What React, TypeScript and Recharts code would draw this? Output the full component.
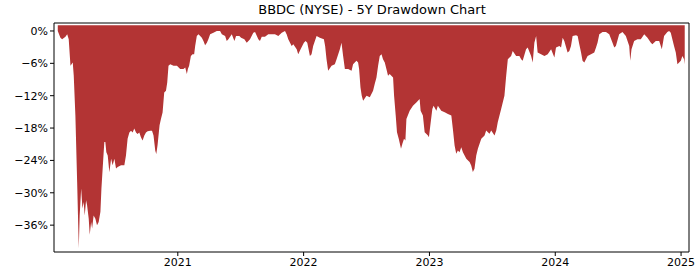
import React from "react";
import { AreaChart, Area, XAxis, YAxis } from "recharts";

const TITLE = "BBDC (NYSE) - 5Y Drawdown Chart";

// time in decimal years
const dates: number[] = [
  2020.046, 2020.067, 2020.081, 2020.107, 2020.121, 2020.133, 2020.147, 2020.165, 2020.173, 2020.186,
  2020.2, 2020.213, 2020.22, 2020.232, 2020.242, 2020.252, 2020.26, 2020.271, 2020.279, 2020.292,
  2020.3, 2020.311, 2020.319, 2020.331, 2020.345, 2020.358, 2020.371, 2020.385, 2020.393, 2020.406,
  2020.416, 2020.424, 2020.432, 2020.443, 2020.456, 2020.47, 2020.482, 2020.496, 2020.509, 2020.522,
  2020.549, 2020.575, 2020.588, 2020.601, 2020.615, 2020.628, 2020.641, 2020.654, 2020.668, 2020.68,
  2020.694, 2020.707, 2020.72, 2020.734, 2020.747, 2020.76, 2020.781, 2020.795, 2020.807, 2020.821,
  2020.829, 2020.839, 2020.855, 2020.866, 2020.879, 2020.892, 2020.906, 2020.916, 2020.926, 2020.94,
  2020.966, 2020.993, 2021.019, 2021.045, 2021.059, 2021.072, 2021.08, 2021.09, 2021.104, 2021.117,
  2021.13, 2021.138, 2021.151, 2021.164, 2021.178, 2021.191, 2021.204, 2021.217, 2021.231, 2021.243,
  2021.257, 2021.283, 2021.31, 2021.336, 2021.35, 2021.376, 2021.389, 2021.402, 2021.429, 2021.45,
  2021.463, 2021.489, 2021.503, 2021.529, 2021.548, 2021.574, 2021.6, 2021.614, 2021.64, 2021.653,
  2021.667, 2021.693, 2021.719, 2021.746, 2021.772, 2021.799, 2021.826, 2021.852, 2021.865, 2021.878,
  2021.905, 2021.918, 2021.945, 2021.957, 2021.976, 2022.002, 2022.016, 2022.029, 2022.05, 2022.063,
  2022.076, 2022.103, 2022.129, 2022.161, 2022.171, 2022.182, 2022.195, 2022.222, 2022.248, 2022.262,
  2022.288, 2022.301, 2022.314, 2022.328, 2022.354, 2022.381, 2022.393, 2022.42, 2022.433, 2022.441,
  2022.452, 2022.462, 2022.473, 2022.5, 2022.526, 2022.539, 2022.552, 2022.565, 2022.579, 2022.592,
  2022.605, 2022.619, 2022.631, 2022.645, 2022.658, 2022.671, 2022.684, 2022.711, 2022.719, 2022.732,
  2022.742, 2022.756, 2022.774, 2022.785, 2022.798, 2022.809, 2022.817, 2022.843, 2022.869, 2022.896,
  2022.922, 2022.93, 2022.948, 2022.962, 2022.988, 2022.996, 2023.007, 2023.023, 2023.033, 2023.055,
  2023.067, 2023.094, 2023.121, 2023.147, 2023.174, 2023.186, 2023.2, 2023.213, 2023.226, 2023.239,
  2023.253, 2023.266, 2023.293, 2023.319, 2023.332, 2023.345, 2023.358, 2023.372, 2023.385, 2023.412,
  2023.438, 2023.451, 2023.477, 2023.491, 2023.517, 2023.531, 2023.543, 2023.57, 2023.596, 2023.61,
  2023.623, 2023.649, 2023.662, 2023.689, 2023.715, 2023.729, 2023.741, 2023.768, 2023.781, 2023.808,
  2023.821, 2023.834, 2023.848, 2023.86, 2023.887, 2023.914, 2023.94, 2023.967, 2023.993, 2024.006,
  2024.033, 2024.046, 2024.059, 2024.072, 2024.098, 2024.112, 2024.125, 2024.138, 2024.165, 2024.178,
  2024.191, 2024.205, 2024.217, 2024.231, 2024.257, 2024.284, 2024.31, 2024.324, 2024.336, 2024.35,
  2024.376, 2024.403, 2024.429, 2024.455, 2024.469, 2024.482, 2024.508, 2024.534, 2024.561, 2024.588,
  2024.596, 2024.606, 2024.627, 2024.653, 2024.68, 2024.707, 2024.733, 2024.76, 2024.772, 2024.799,
  2024.826, 2024.847, 2024.865, 2024.891, 2024.905, 2024.918, 2024.944, 2024.958, 2024.971, 2024.998,
  2025.01, 2025.024, 2025.029,
];

// drawdown in percent
const drawdown: number[] = [
  0, -1.24, -1.53, -1.05, -0.61, -1.53, -6.46, -5.85, -8.31, -15.69,
  -28.0, -40.3, -34.2, -29.2, -32.9, -31.7, -34.2, -31.4, -32.3, -34.8,
  -37.8, -35.4, -36.6, -34.2, -34.8, -36.0, -35.4, -33.5, -29.2, -24.3,
  -20.6, -20.6, -22.5, -23.1, -26.2, -23.7, -24.9, -23.7, -25.5, -25.2,
  -24.9, -24.9, -23.1, -20.0, -18.8, -18.5, -18.8, -18.1, -18.8, -19.1,
  -18.8, -19.7, -20.3, -19.4, -18.8, -18.6, -18.5, -18.5, -19.4, -22.2,
  -22.8, -21.2, -17.5, -16.3, -15.1, -11.4, -11.1, -9.54, -6.46, -6.15,
  -6.46, -6.46, -7.07, -7.07, -6.77, -7.99, -7.07, -6.46, -4.62, -4.3,
  -4.3, -2.77, -0.92, -0.61, -0.92, -1.24, -1.85, -2.64, -2.16, -1.53,
  -0.61, -0.31, 0, 0, -0.61, -0.92, -1.85, -1.53, -0.61, -1.85,
  -0.92, -0.92, -1.24, -1.53, -2.16, -1.53, -0.31, -0.18, -1.53, -1.85,
  -1.05, -1.05, -0.61, -0.61, -0.61, -0.92, -0.31, 0, -0.61, -1.53,
  -2.77, -2.46, -3.38, -4.3, -3.38, -2.16, -1.85, -2.16, -4.62, -4.3,
  -2.77, -0.92, -1.24, -1.53, -2.77, -5.22, -7.38, -6.46, -6.15, -5.22,
  -3.38, -2.16, -4.62, -7.07, -7.07, -7.38, -6.15, -5.54, -5.85, -7.07,
  -10.47, -12.0, -12.92, -12.0, -12.31, -11.69, -11.08, -9.84, -8.62, -6.46,
  -4.62, -4.3, -5.22, -5.85, -7.07, -8.31, -7.99, -8.62, -12.0, -15.69,
  -18.77, -19.99, -21.84, -20.92, -19.99, -20.31, -16.3, -14.77, -13.85, -13.24,
  -12.61, -14.77, -15.69, -18.77, -19.38, -19.7, -17.54, -14.45, -13.85, -14.77,
  -13.85, -14.77, -15.08, -15.38, -15.69, -18.15, -21.23, -22.76, -22.15, -22.47,
  -21.54, -22.47, -23.69, -24.31, -24.92, -26.16, -25.53, -23.08, -21.84, -19.99,
  -19.38, -18.46, -19.07, -18.46, -19.38, -18.46, -16.93, -14.45, -12.0, -8.31,
  -5.22, -4.62, -3.69, -4.62, -4.62, -5.22, -5.54, -3.38, -3.08, -4.62,
  -5.85, -2.16, -0.92, -4.01, -4.3, -4.62, -4.3, -3.38, -4.93, -3.08,
  -2.77, -3.08, -1.24, -1.85, -4.01, -3.69, -2.77, -0.92, -0.79, -0.92,
  -2.46, -4.01, -5.54, -5.85, -4.62, -4.3, -4.01, -3.08, -2.16, -0.61,
  -0.18, -0.18, -0.61, -2.16, -3.08, -2.77, -0.61, -0.18, -0.92, -2.77,
  -5.54, -3.38, -1.85, -1.53, -1.53, -0.61, -1.24, -2.16, -2.46, -1.85,
  -1.85, -3.38, -0.92, -0.18, 0, -0.31, -2.77, -4.01, -6.15, -5.54,
  -4.62, -5.22, -6.15,
];

const yTicks: number[] = [0, -6, -12, -18, -24, -30, -36];
const xTicks: number[] = [2021, 2022, 2023, 2024, 2025];

const X_DOMAIN: [number, number] = [2020.016, 2025.063];
const Y_DOMAIN: [number, number] = [-40.98, 1.48];
const BASE = 1.05;

const data = dates.map((t, i) => ({ t, dd: drawdown[i] }));

const fmtY = (v: number) => (v === 0 ? "0%" : "\u2212" + Math.abs(v) + "%");
const FONT = "'DejaVu Sans', sans-serif";

export default function App() {
  return (
    <div style={{ position: "absolute", left: 0, top: 0, width: 700, height: 280, background: "#fff" }}>
      <div
        style={{
          position: "absolute",
          left: 54,
          width: 636,
          top: 2,
          textAlign: "center",
          fontFamily: FONT,
          fontSize: 13,
          color: "#000",
        }}
      >
        {TITLE}
      </div>
      <AreaChart width={700} height={280} data={data} margin={{ top: 22, right: 10, bottom: 0, left: 0 }}>
        <XAxis
          dataKey="t"
          type="number"
          domain={X_DOMAIN}
          ticks={xTicks}
          allowDataOverflow
          tickFormatter={(v: number) => String(Math.round(v))}
          height={28}
          tickSize={4}
          stroke="#000"
          tick={{ fill: "#000", fontSize: 11, fontFamily: FONT }}
          axisLine={{ stroke: "#000" }}
          tickLine={{ stroke: "#000" }}
        />
        <XAxis
          xAxisId="top"
          orientation="top"
          dataKey="t"
          type="number"
          domain={X_DOMAIN}
          allowDataOverflow
          height={1}
          tick={false}
          tickLine={false}
          stroke="#000"
          axisLine={{ stroke: "#000" }}
        />
        <YAxis
          type="number"
          domain={Y_DOMAIN}
          ticks={yTicks}
          allowDataOverflow
          tickFormatter={fmtY}
          width={54}
          tickSize={4}
          stroke="#000"
          tick={{ fill: "#000", fontSize: 11, fontFamily: FONT }}
          axisLine={{ stroke: "#000" }}
          tickLine={{ stroke: "#000" }}
        />
        <YAxis
          yAxisId="right"
          orientation="right"
          type="number"
          domain={Y_DOMAIN}
          allowDataOverflow
          width={1}
          tick={false}
          tickLine={false}
          stroke="#000"
          axisLine={{ stroke: "#000" }}
        />
        <Area
          dataKey="dd"
          type="linear"
          baseValue={BASE}
          fill="#b33434"
          fillOpacity={1}
          stroke="none"
          isAnimationActive={false}
        />
        <Area
          xAxisId="top"
          yAxisId="right"
          dataKey="dd"
          type="linear"
          baseValue={BASE}
          fill="none"
          fillOpacity={0}
          stroke="none"
          isAnimationActive={false}
        />
      </AreaChart>
    </div>
  );
}
